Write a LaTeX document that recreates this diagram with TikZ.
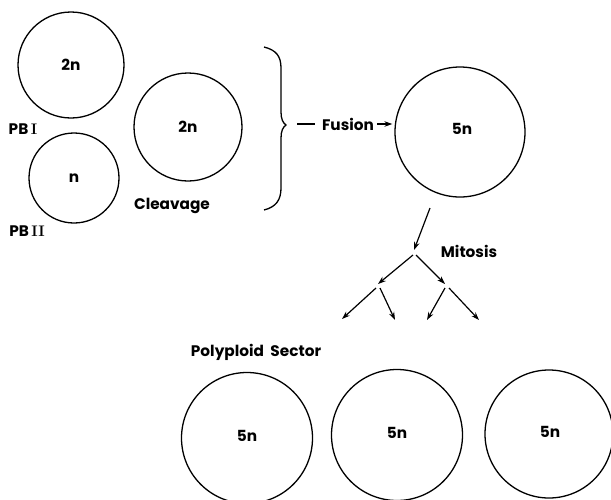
\documentclass[tikz,border=0pt]{standalone}
\usepackage{fontspec}
\setmainfont{Poppins}[BoldFont={* Bold}]
\setromanfont{Latin Modern Roman}
\setsansfont{Poppins}[BoldFont={* Bold}]
\usetikzlibrary{arrows.meta}
\begin{document}
\begin{tikzpicture}[x=1pt,y=-1pt,
  cell/.style={draw,circle,line width=1.3pt,inner sep=0pt,font=\sffamily\bfseries\fontsize{15.3}{17}\selectfont},
  lab/.style={font=\sffamily\bfseries\fontsize{15.3}{17}\selectfont,inner sep=1pt},
  arr/.style={line width=1.2pt,-{Stealth[length=8pt,width=5.5pt]}}]
\useasboundingbox (0,0) rectangle (611,499);
% top-left group
\node[cell,minimum size=106pt] (c1) at (71,65) {2n};
\node[cell,minimum size=90pt] (c2) at (74,178) {n};
\node[cell,minimum size=108pt] (c3) at (188,127) {2n};
\node[lab] (pb1) at (23,129) {PB\,{\rmfamily\bfseries I}};
\node[lab] (pb2) at (27,231) {PB\,{\rmfamily\bfseries II}};
\node[lab] (clv) at (172,206) {Cleavage};
% brace
\draw[line width=1.3pt] (264,47) .. controls (276,50) and (281,56) .. (281,68)
  -- (281,112) .. controls (281,119) and (283,123) .. (286,125)
  .. controls (283,127) and (281,131) .. (281,138)
  -- (281,188) .. controls (281,200) and (276,207) .. (264,210);
% fusion
\node[cell,minimum size=130pt] (big) at (460,132) {};
\node[lab] (big5) at (462,129) {5n};
\node[lab] (fus) at (348,124) {Fusion};
\coordinate (d1) at (297,124);
\draw[line width=1.3pt] (d1) -- ++(18,0);
\draw[arr] ([xshift=2pt]fus.east) -- ([xshift=-2pt]fus.east -| big.west);
% mitosis
\coordinate (m0) at (430,208);
\coordinate (m1) at (414,250);
\node[lab] (mit) at (469,251) {Mitosis};
\draw[arr] (m0) -- (m1);
\coordinate (b0) at (413,255);
\coordinate (b1) at (378,284);
\coordinate (b2) at (445,284);
\draw[arr] (b0) -- (b1);
\draw[arr] ([xshift=3pt]b0) -- (b2);
\coordinate (l1) at (376,288);
\coordinate (l2) at (380,288);
\coordinate (r1) at (445,288);
\coordinate (r2) at (449,288);
\coordinate (e1) at (342,319);
\coordinate (e2) at (395,320);
\coordinate (e3) at (427,320);
\coordinate (e4) at (479,320);
\draw[arr] (l1) -- (e1);
\draw[arr] (l2) -- (e2);
\draw[arr] (r1) -- (e3);
\draw[arr] (r2) -- (e4);
% bottom
\node[lab] (poly) at (256,352) {Polyploid\ \ Sector};
\node[cell,minimum size=131pt] (p1) at (247,438) {};
\node[lab] (p1t) at (247,436) {5n};
\node[cell,minimum size=131pt] (p2) at (397,435) {};
\node[lab] (p2t) at (397,433) {5n};
\node[cell,minimum size=128pt] (p3) at (549,434) {};
\node[lab] (p3t) at (550,432) {5n};
\end{tikzpicture}
\end{document}
